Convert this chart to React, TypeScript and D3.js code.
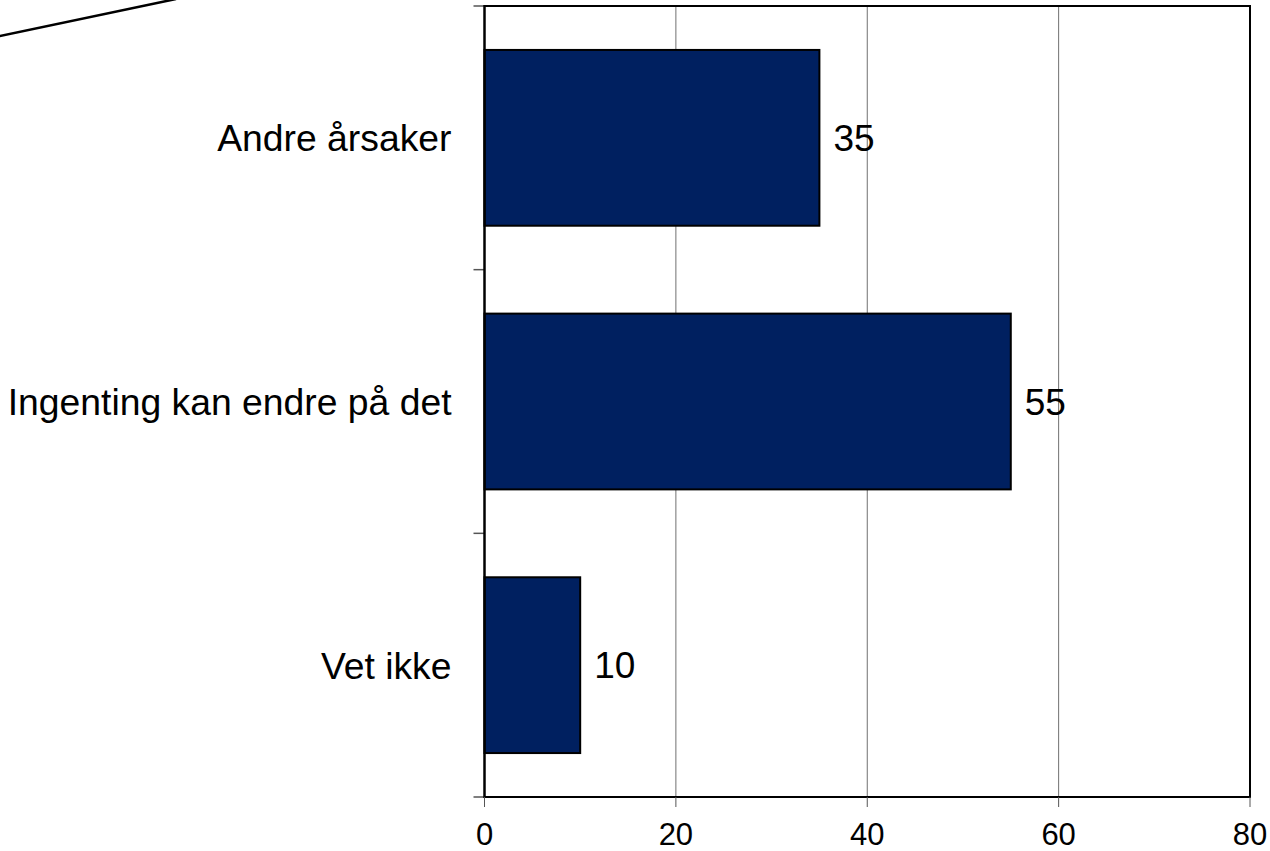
import React, { useEffect, useRef } from "react";
import * as d3 from "d3";

const categories: string[] = ["Andre årsaker", "Ingenting kan endre på det", "Vet ikke"];
const values: number[] = [35, 55, 10];
const xTicks: number[] = [0, 20, 40, 60, 80];

export default function App() {
  const chartRef = useRef<SVGSVGElement>(null);

  useEffect(() => {
    if (!chartRef.current) return;
    document.body.style.margin = "0";

    const svg = d3.select(chartRef.current);
    svg.selectAll("*").remove();

    const left = 484.5;
    const right = 1250;
    const top = 6;
    const bottom = 797;
    const font = "'Liberation Sans', Arial, sans-serif";

    const x = d3.scaleLinear().domain([0, 80]).range([left, right]);
    const y = d3
      .scaleBand<string>()
      .domain(categories)
      .range([top, bottom])
      .paddingInner(1 / 3)
      .paddingOuter(1 / 6);

    // decorative stroke in the top-left corner
    svg
      .append("line")
      .attr("x1", -5)
      .attr("y1", 37)
      .attr("x2", 176)
      .attr("y2", -1)
      .attr("stroke", "#000")
      .attr("stroke-width", 2.5);

    // vertical gridlines
    svg
      .selectAll(".grid")
      .data(xTicks.filter((t) => t > 0 && t < 80))
      .enter()
      .append("line")
      .attr("class", "grid")
      .attr("x1", (d) => x(d))
      .attr("x2", (d) => x(d))
      .attr("y1", top)
      .attr("y2", bottom)
      .attr("stroke", "#707070")
      .attr("stroke-width", 1);

    // bars
    svg
      .selectAll(".bar")
      .data(values)
      .enter()
      .append("rect")
      .attr("class", "bar")
      .attr("x", x(0))
      .attr("y", (d, i) => y(categories[i]) as number)
      .attr("width", (d) => x(d) - x(0))
      .attr("height", y.bandwidth())
      .attr("fill", "#002060")
      .attr("stroke", "#000")
      .attr("stroke-width", 2);

    // value labels
    svg
      .selectAll(".val")
      .data(values)
      .enter()
      .append("text")
      .attr("class", "val")
      .attr("x", (d) => x(d) + 14)
      .attr("y", (d, i) => (y(categories[i]) as number) + y.bandwidth() / 2)
      .attr("dy", "0.36em")
      .style("font-family", font)
      .style("font-size", "37px")
      .style("fill", "#000")
      .text((d) => d);

    // plot frame: top and right border
    svg
      .append("path")
      .attr("d", `M${left},${top}H${right}V${bottom}`)
      .attr("fill", "none")
      .attr("stroke", "#000")
      .attr("stroke-width", 2);

    // left axis
    const yTickPos = [top, ...categories.slice(1).map((c) => (y(c) as number) - (y.step() - y.bandwidth()) / 2), bottom];
    svg
      .selectAll(".ytick")
      .data(yTickPos)
      .enter()
      .append("line")
      .attr("class", "ytick")
      .attr("x1", left - 11)
      .attr("x2", left)
      .attr("y1", (d) => d)
      .attr("y2", (d) => d)
      .attr("stroke", "#555")
      .attr("stroke-width", 1.5);

    svg
      .append("line")
      .attr("x1", left)
      .attr("x2", left)
      .attr("y1", top - 1)
      .attr("y2", bottom + 1)
      .attr("stroke", "#000")
      .attr("stroke-width", 2.5);

    svg
      .selectAll(".cat")
      .data(categories)
      .enter()
      .append("text")
      .attr("class", "cat")
      .attr("x", left - 33)
      .attr("y", (d) => (y(d) as number) + y.bandwidth() / 2)
      .attr("dy", "0.36em")
      .attr("text-anchor", "end")
      .style("font-family", font)
      .style("font-size", "37.3px")
      .style("fill", "#000")
      .text((d) => d);

    // bottom axis
    svg
      .append("line")
      .attr("x1", left)
      .attr("x2", right + 1)
      .attr("y1", bottom)
      .attr("y2", bottom)
      .attr("stroke", "#000")
      .attr("stroke-width", 2);

    svg
      .selectAll(".xtick")
      .data(xTicks)
      .enter()
      .append("line")
      .attr("class", "xtick")
      .attr("x1", (d) => x(d))
      .attr("x2", (d) => x(d))
      .attr("y1", bottom)
      .attr("y2", bottom + 10)
      .attr("stroke", "#555")
      .attr("stroke-width", 1);

    svg
      .selectAll(".xlab")
      .data(xTicks)
      .enter()
      .append("text")
      .attr("class", "xlab")
      .attr("x", (d) => x(d))
      .attr("y", bottom + 48)
      .attr("text-anchor", "middle")
      .style("font-family", font)
      .style("font-size", "31px")
      .style("fill", "#000")
      .text((d) => d);
  }, []);

  return (
    <svg
      ref={chartRef}
      width={1270}
      height={851}
      style={{ position: "absolute", left: 0, top: 0, display: "block", background: "#fff" }}
    />
  );
}
